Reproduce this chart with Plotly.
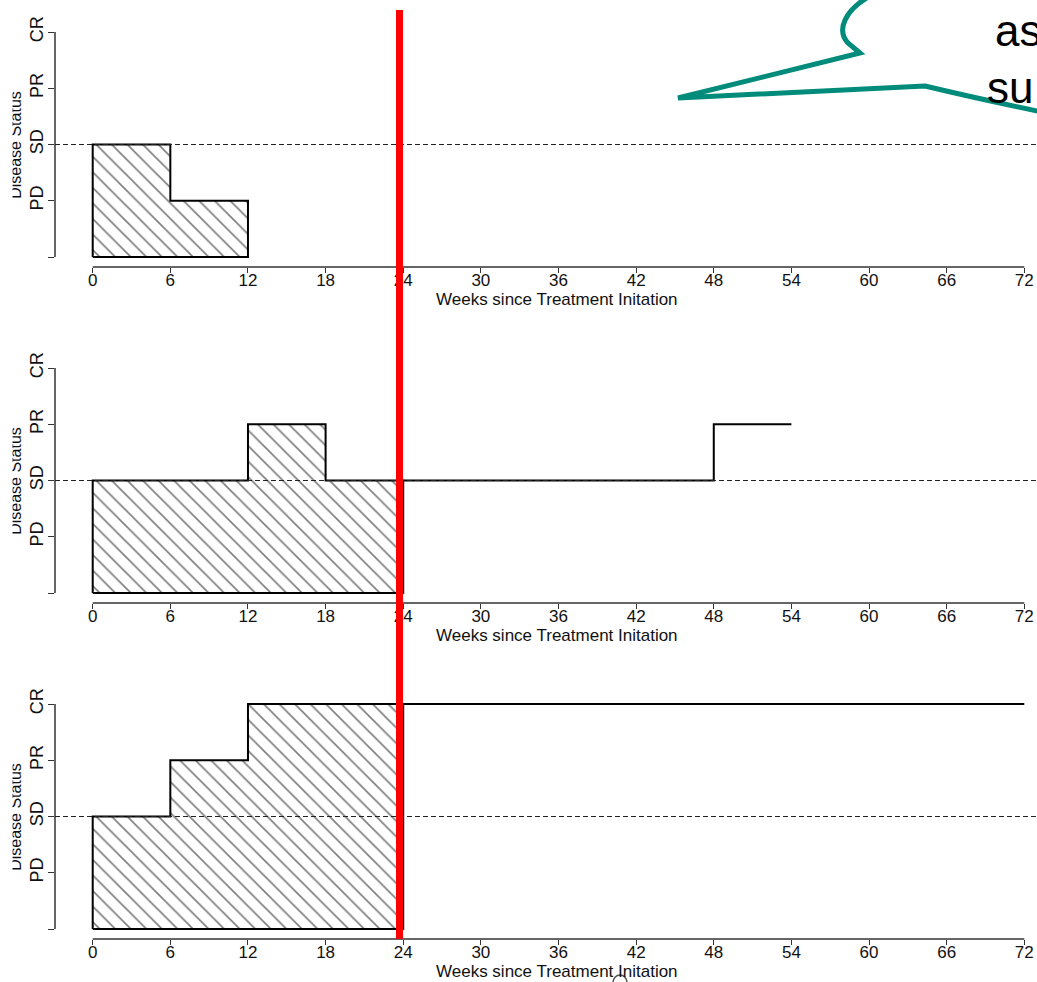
import plotly.graph_objects as go

# ---------------- data ----------------
week_ticks = [0, 6, 12, 18, 24, 30, 36, 42, 48, 54, 60, 66, 72]
status_levels = [0, 1, 2, 3, 4]
status_labels = ["", "PD", "SD", "PR", "CR"]
landmark_week = 24

# change points (weeks) and the status held from each change point to the next
p1_weeks = [0, 6, 12]
p1_status = [2, 1]
p2_weeks = [0, 12, 18, 48, 54]
p2_status = [2, 3, 2, 3]
p3_weeks = [0, 6, 12, 72]
p3_status = [2, 3, 4]

x_title = "Weeks since Treatment Initation"
y_title = "Disease Status"
callout_lines = ["as", "su"]

# ---------------- layout helpers ----------------
W, H = 1037, 982
FONT = "Liberation Sans, Arial, sans-serif"
AX = "#333333"
TXT = "#111111"


def fx(p):
    return p / W


def fy(p):
    return 1 - p / H


def hatched_polygon(weeks, status, cut):
    end = min(weeks[-1], cut)
    xs, ys = [weeks[0]], [0]
    for i, s in enumerate(status):
        a, b = weeks[i], min(weeks[i + 1], end)
        if a >= end:
            break
        xs += [a, b]
        ys += [s, s]
    xs += [end, weeks[0]]
    ys += [0, 0]
    return xs, ys


def tail_line(weeks, status, cut):
    if weeks[-1] <= cut:
        return None
    xs, ys = [], []
    for i, s in enumerate(status):
        a, b = weeks[i], weeks[i + 1]
        if b <= cut:
            continue
        a = max(a, cut)
        xs += [a, b]
        ys += [s, s]
    return xs, ys


panels = [(p1_weeks, p1_status), (p2_weeks, p2_status), (p3_weeks, p3_status)]

fig = go.Figure()
shapes = []
annotations = []

PX0 = 92.7            # pixel of week 0
PXW = (1024.3 - 92.7) / 72.0   # pixels per week
XL = 55.0             # left edge of plotting area (y-axis line)
x_range = [(XL - PX0) / PXW, (W - PX0) / PXW]

for k, (wk, st) in enumerate(panels):
    off = 336 * k
    lvl0 = 257 + off
    lvl4 = 32 + off
    ppu = (lvl0 - lvl4) / 4.0
    axis_px = 267 + off
    top_px = 10 + off
    y_range = [-(axis_px - lvl0) / ppu, 4 + (lvl4 - top_px) / ppu]
    n = "" if k == 0 else str(k + 1)
    xa, ya = "x" + n, "y" + n

    px, py = hatched_polygon(wk, st, landmark_week)
    fig.add_trace(go.Scatter(
        x=px, y=py, xaxis=xa, yaxis=ya, mode="lines", fill="toself",
        fillcolor="white",
        fillpattern=dict(shape="\\", size=11, solidity=0.15,
                         fgcolor="#000000", bgcolor="white"),
        line=dict(color="black", width=2), hoverinfo="skip"))
    tl = tail_line(wk, st, landmark_week)
    if tl:
        fig.add_trace(go.Scatter(
            x=tl[0], y=tl[1], xaxis=xa, yaxis=ya, mode="lines",
            line=dict(color="black", width=2), hoverinfo="skip"))

    fig.update_layout(**{
        ("xaxis" + n): dict(
            domain=[fx(XL), 1], range=x_range, anchor=ya,
            tickvals=week_ticks, ticktext=[str(v) for v in week_ticks],
            ticks="outside", ticklen=5, tickwidth=1.3, tickcolor=AX,
            ticklabelstandoff=-7,
            showline=False, showgrid=False, zeroline=False,
            tickfont=dict(family=FONT, size=17, color=TXT)),
        ("yaxis" + n): dict(
            domain=[fy(axis_px), fy(top_px)], range=y_range, anchor=xa,
            tickvals=status_levels, ticktext=status_labels, tickangle=-90,
            ticks="outside", ticklen=6, tickwidth=1.3, tickcolor=AX,
            ticklabelstandoff=-2,
            showline=False, showgrid=False, zeroline=False,
            tickfont=dict(family=FONT, size=18, color=TXT)),
    })

    # axis lines spanning tick range (R style)
    shapes.append(dict(type="line", xref=xa + " domain", yref=ya,
                       x0=0, x1=0, y0=0, y1=4,
                       line=dict(color=AX, width=1.5)))
    shapes.append(dict(type="line", xref=xa, yref=ya + " domain",
                       x0=0, x1=72, y0=0, y1=0,
                       line=dict(color=AX, width=1.5)))
    # dashed SD reference line
    shapes.append(dict(type="line", xref=xa + " domain", yref=ya,
                       x0=0, x1=1, y0=2, y1=2,
                       line=dict(color="#222", width=1, dash="5px,3px")))
    # x title
    annotations.append(dict(text=x_title, xref="paper", yref="paper",
                            x=fx(557), y=fy(299 + off), showarrow=False,
                            xanchor="center", yanchor="middle",
                            font=dict(family=FONT, size=17, color=TXT)))
    # y title (drawn as shape label so it can be clipped)
    cy = 145 + off
    shapes.append(dict(type="rect", xref="paper", yref="paper",
                       x0=fx(1), x1=fx(26), y0=fy(cy + 70), y1=fy(cy - 70),
                       line=dict(width=0), fillcolor="rgba(0,0,0,0)",
                       label=dict(text=y_title, textangle=-90,
                                  textposition="middle center",
                                  font=dict(family=FONT, size=16, color=TXT))))

# clip of the y titles at the left
shapes.append(dict(type="rect", xref="paper", yref="paper",
                   x0=fx(-5), x1=fx(12.5), y0=0, y1=1,
                   line=dict(width=0), fillcolor="white"))

# red landmark line
shapes.append(dict(type="line", xref="paper", yref="paper",
                   x0=fx(399.5), x1=fx(399.5), y0=fy(10), y1=fy(939),
                   line=dict(color="#ff0000", width=7)))

# callout bubble outline
pts = [("M", [(870, -4)]), ("C", [(845, 10), (836, 30), (848, 43)]),
       ("L", [(860, 53)]), ("L", [(678, 98)]), ("L", [(925, 86)]),
       ("Q", [(975, 98), (1042, 112)])]
path = " ".join(cmd + " " + " ".join(f"{fx(a):.5f},{fy(b):.5f}" for a, b in p)
                for cmd, p in pts)
shapes.append(dict(type="path", xref="paper", yref="paper", path=path,
                   line=dict(color="#008B7A", width=5)))

# small arc at bottom
shapes.append(dict(type="circle", xref="paper", yref="paper",
                   x0=fx(613), x1=fx(627), y0=fy(990), y1=fy(975),
                   line=dict(color="#555", width=1.5)))

annotations.append(dict(text=callout_lines[0], xref="paper", yref="paper",
                        x=fx(993), y=fy(30), xanchor="left", yanchor="middle",
                        showarrow=False, font=dict(family=FONT, size=44, color="black")))
annotations.append(dict(text=callout_lines[1], xref="paper", yref="paper",
                        x=fx(985), y=fy(87), xanchor="left", yanchor="middle",
                        showarrow=False, font=dict(family=FONT, size=44, color="black")))

fig.update_layout(width=W, height=H, autosize=False,
                  margin=dict(l=0, r=0, t=0, b=0, pad=0),
                  paper_bgcolor="white", plot_bgcolor="white",
                  showlegend=False, shapes=shapes, annotations=annotations)

fig.write_html("out.html")
